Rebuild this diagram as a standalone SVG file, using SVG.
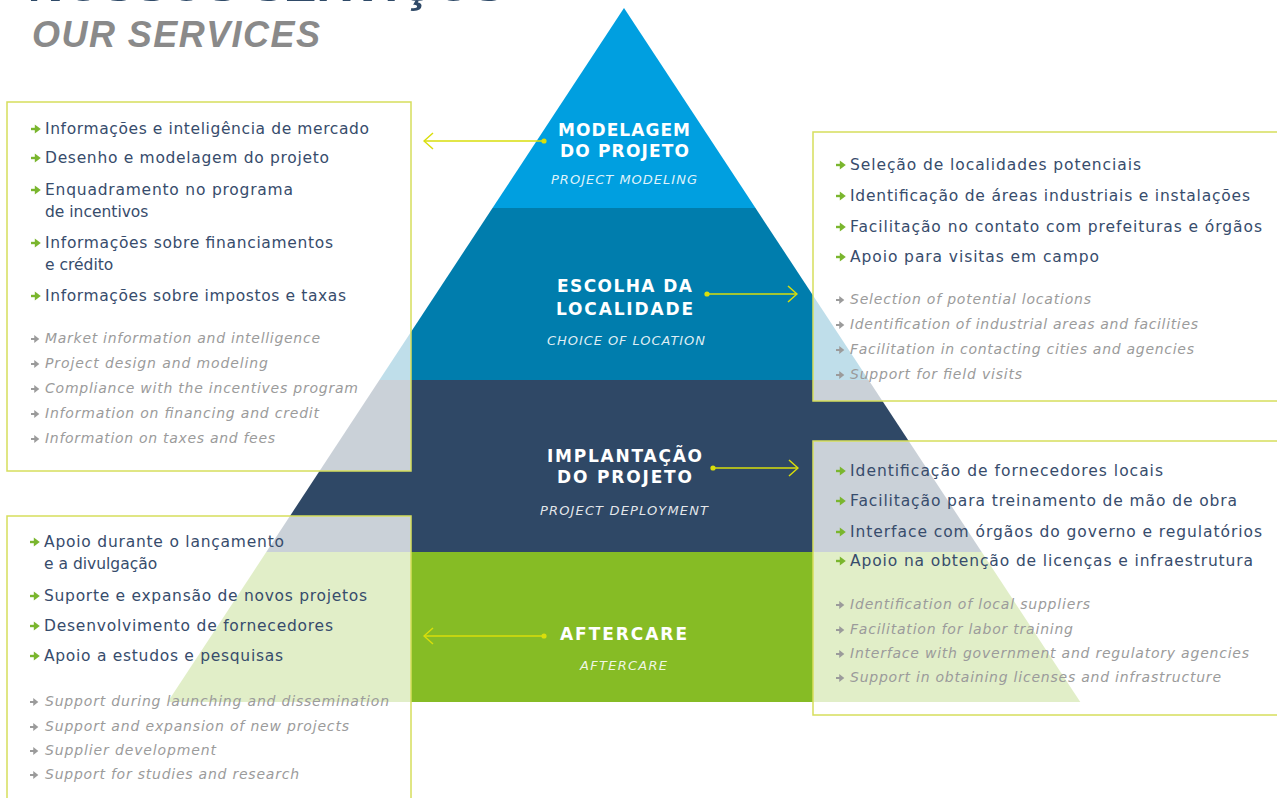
<svg xmlns="http://www.w3.org/2000/svg" xmlns:xlink="http://www.w3.org/1999/xlink" width="1277" height="798" viewBox="0 0 1277 798">
  <style>
    .pt { font-family: "DejaVu Sans", "Liberation Sans", sans-serif; font-size: 15.5px; fill: #374C6C; }
    .en { font-family: "DejaVu Sans", "Liberation Sans", sans-serif; font-size: 14px; font-style: italic; fill: #9B9B9B; }
    .lvl { font-family: "DejaVu Sans", "Liberation Sans", sans-serif; font-size: 17px; font-weight: bold; fill: #FFFFFF; }
    .sub { font-family: "DejaVu Sans", "Liberation Sans", sans-serif; font-size: 13px; font-style: italic; fill: #FFFFFF; fill-opacity: 0.88; }
    .box { fill: #FFFFFF; fill-opacity: 0.75; stroke: #D6DE5C; stroke-width: 1.5; }
    .ag { fill: #7AB62E; stroke: #7AB62E; }
    .ay { fill: #9B9B9B; stroke: #9B9B9B; }
    .link { fill: none; stroke: #D9DE0B; stroke-width: 1.5; marker-start: url(#dot); marker-end: url(#chev); }
  </style>
  <defs>
    <!-- bullet arrow used before every list item -->
    <g id="bullet">
      <path d="M0 0H6.4" stroke-width="2.4" fill="none"/>
      <path d="M3.8 -4.6L9.8 0L3.8 4.6Z" stroke="none"/>
    </g>
    <marker id="dot" markerUnits="userSpaceOnUse" viewBox="0 0 6 6" refX="3" refY="3" markerWidth="6" markerHeight="6">
      <circle cx="3" cy="3" r="2.6" fill="#D9DE0B"/>
    </marker>
    <marker id="chev" markerUnits="userSpaceOnUse" viewBox="0 0 12 18" refX="11" refY="9" markerWidth="12" markerHeight="18" orient="auto">
      <path d="M2 1L11 9L2 17" fill="none" stroke="#D9DE0B" stroke-width="1.5"/>
    </marker>
  </defs>

  <rect width="1277" height="798" fill="#FFFFFF"/>

  <!-- heading -->
  <g id="title">
    <text x="30" y="0.9" font-family="Liberation Sans, sans-serif" font-size="49" font-weight="bold" font-style="italic" fill="#2F4A68">NOSSOS SERVIÇOS</text>
    <text x="32" y="47" font-family="Liberation Sans, sans-serif" font-size="36" font-weight="bold" font-style="italic" fill="#8A8A8A" textLength="288">OUR SERVICES</text>
  </g>

  <!-- pyramid levels -->
  <g id="level-modeling">
    <polygon points="624,8 755.5,208 492.5,208" fill="#009FE0"/>
  </g>
  <g id="level-location">
    <polygon points="492.5,208 755.5,208 868.6,380 379.4,380" fill="#007DAD"/>
  </g>
  <g id="level-deployment">
    <polygon points="379.4,380 868.6,380 981.7,552 266.3,552" fill="#2F4866"/>
  </g>
  <g id="level-aftercare">
    <polygon points="266.3,552 981.7,552 1080.3,702 167.7,702" fill="#86BC25"/>
  </g>

  <!-- service list: project modeling -->
  <g id="box-modeling">
    <rect class="box" x="7" y="102" width="404" height="369"/>
    <use xlink:href="#bullet" class="ag" x="31" y="129"/>
    <text class="pt" x="45" y="134" textLength="324">Informações e inteligência de mercado</text>
    <use xlink:href="#bullet" class="ag" x="31" y="158"/>
    <text class="pt" x="45" y="163" textLength="284">Desenho e modelagem do projeto</text>
    <use xlink:href="#bullet" class="ag" x="31" y="190"/>
    <text class="pt" x="45" y="195" textLength="248">Enquadramento no programa</text>
    <text class="pt" x="45" y="217">de incentivos</text>
    <use xlink:href="#bullet" class="ag" x="31" y="243"/>
    <text class="pt" x="45" y="248" textLength="288">Informações sobre financiamentos</text>
    <text class="pt" x="45" y="270">e crédito</text>
    <use xlink:href="#bullet" class="ag" x="31" y="296"/>
    <text class="pt" x="45" y="301" textLength="301">Informações sobre impostos e taxas</text>

    <use xlink:href="#bullet" class="ay" x="31" y="339" transform="translate(31 339) scale(0.85) translate(-31 -339)"/>
    <text class="en" x="45" y="343" textLength="275">Market information and intelligence</text>
    <use xlink:href="#bullet" class="ay" x="31" y="364" transform="translate(31 364) scale(0.85) translate(-31 -364)"/>
    <text class="en" x="45" y="368" textLength="223">Project design and modeling</text>
    <use xlink:href="#bullet" class="ay" x="31" y="389" transform="translate(31 389) scale(0.85) translate(-31 -389)"/>
    <text class="en" x="45" y="393" textLength="313">Compliance with the incentives program</text>
    <use xlink:href="#bullet" class="ay" x="31" y="414" transform="translate(31 414) scale(0.85) translate(-31 -414)"/>
    <text class="en" x="45" y="418" textLength="274">Information on financing and credit</text>
    <use xlink:href="#bullet" class="ay" x="31" y="439" transform="translate(31 439) scale(0.85) translate(-31 -439)"/>
    <text class="en" x="45" y="443" textLength="230">Information on taxes and fees</text>
  </g>

  <!-- service list: choice of location -->
  <g id="box-location">
    <rect class="box" x="813" y="132" width="480" height="269"/>
    <use xlink:href="#bullet" class="ag" x="836" y="165"/>
    <text class="pt" x="850" y="170" textLength="291">Seleção de localidades potenciais</text>
    <use xlink:href="#bullet" class="ag" x="836" y="196"/>
    <text class="pt" x="850" y="201" textLength="400">Identificação de áreas industriais e instalações</text>
    <use xlink:href="#bullet" class="ag" x="836" y="227"/>
    <text class="pt" x="850" y="232" textLength="412">Facilitação no contato com prefeituras e órgãos</text>
    <use xlink:href="#bullet" class="ag" x="836" y="257"/>
    <text class="pt" x="850" y="262" textLength="249">Apoio para visitas em campo</text>

    <use xlink:href="#bullet" class="ay" x="836" y="300" transform="translate(836 300) scale(0.85) translate(-836 -300)"/>
    <text class="en" x="850" y="304" textLength="241">Selection of potential locations</text>
    <use xlink:href="#bullet" class="ay" x="836" y="325" transform="translate(836 325) scale(0.85) translate(-836 -325)"/>
    <text class="en" x="850" y="329" textLength="348">Identification of industrial areas and facilities</text>
    <use xlink:href="#bullet" class="ay" x="836" y="350" transform="translate(836 350) scale(0.85) translate(-836 -350)"/>
    <text class="en" x="850" y="354" textLength="344">Facilitation in contacting cities and agencies</text>
    <use xlink:href="#bullet" class="ay" x="836" y="375" transform="translate(836 375) scale(0.85) translate(-836 -375)"/>
    <text class="en" x="850" y="379" textLength="172">Support for field visits</text>
  </g>

  <!-- service list: project deployment -->
  <g id="box-deployment">
    <rect class="box" x="813" y="441" width="480" height="274"/>
    <use xlink:href="#bullet" class="ag" x="836" y="471"/>
    <text class="pt" x="850" y="476" textLength="313">Identificação de fornecedores locais</text>
    <use xlink:href="#bullet" class="ag" x="836" y="501"/>
    <text class="pt" x="850" y="506" textLength="387">Facilitação para treinamento de mão de obra</text>
    <use xlink:href="#bullet" class="ag" x="836" y="532"/>
    <text class="pt" x="850" y="537" textLength="412">Interface com órgãos do governo e regulatórios</text>
    <use xlink:href="#bullet" class="ag" x="836" y="561"/>
    <text class="pt" x="850" y="566" textLength="403">Apoio na obtenção de licenças e infraestrutura</text>

    <use xlink:href="#bullet" class="ay" x="836" y="605" transform="translate(836 605) scale(0.85) translate(-836 -605)"/>
    <text class="en" x="850" y="609" textLength="240">Identification of local suppliers</text>
    <use xlink:href="#bullet" class="ay" x="836" y="630" transform="translate(836 630) scale(0.85) translate(-836 -630)"/>
    <text class="en" x="850" y="634" textLength="223">Facilitation for labor training</text>
    <use xlink:href="#bullet" class="ay" x="836" y="654" transform="translate(836 654) scale(0.85) translate(-836 -654)"/>
    <text class="en" x="850" y="658" textLength="399">Interface with government and regulatory agencies</text>
    <use xlink:href="#bullet" class="ay" x="836" y="678" transform="translate(836 678) scale(0.85) translate(-836 -678)"/>
    <text class="en" x="850" y="682" textLength="371">Support in obtaining licenses and infrastructure</text>
  </g>

  <!-- service list: aftercare -->
  <g id="box-aftercare">
    <rect class="box" x="7" y="516" width="404" height="300"/>
    <use xlink:href="#bullet" class="ag" x="30" y="542"/>
    <text class="pt" x="44" y="547" textLength="240">Apoio durante o lançamento</text>
    <text class="pt" x="44" y="569">e a divulgação</text>
    <use xlink:href="#bullet" class="ag" x="30" y="596"/>
    <text class="pt" x="44" y="601" textLength="323">Suporte e expansão de novos projetos</text>
    <use xlink:href="#bullet" class="ag" x="30" y="626"/>
    <text class="pt" x="44" y="631" textLength="289">Desenvolvimento de fornecedores</text>
    <use xlink:href="#bullet" class="ag" x="30" y="656"/>
    <text class="pt" x="44" y="661" textLength="239">Apoio a estudos e pesquisas</text>

    <use xlink:href="#bullet" class="ay" x="30" y="702" transform="translate(30 702) scale(0.85) translate(-30 -702)"/>
    <text class="en" x="45" y="706" textLength="344">Support during launching and dissemination</text>
    <use xlink:href="#bullet" class="ay" x="30" y="727" transform="translate(30 727) scale(0.85) translate(-30 -727)"/>
    <text class="en" x="45" y="731" textLength="304">Support and expansion of new projects</text>
    <use xlink:href="#bullet" class="ay" x="30" y="751" transform="translate(30 751) scale(0.85) translate(-30 -751)"/>
    <text class="en" x="45" y="755" textLength="171">Supplier development</text>
    <use xlink:href="#bullet" class="ay" x="30" y="775" transform="translate(30 775) scale(0.85) translate(-30 -775)"/>
    <text class="en" x="45" y="779" textLength="254">Support for studies and research</text>
  </g>

  <!-- level labels -->
  <g id="label-modeling">
    <text class="lvl" x="558" y="136" textLength="132">MODELAGEM</text>
    <text class="lvl" x="560" y="157" textLength="129">DO PROJETO</text>
    <text class="sub" x="551" y="184" textLength="146">PROJECT MODELING</text>
  </g>
  <g id="label-location">
    <text class="lvl" x="557" y="292" textLength="135">ESCOLHA DA</text>
    <text class="lvl" x="556" y="315" textLength="137">LOCALIDADE</text>
    <text class="sub" x="547" y="345" textLength="158">CHOICE OF LOCATION</text>
  </g>
  <g id="label-deployment">
    <text class="lvl" x="547" y="462" textLength="155">IMPLANTAÇÃO</text>
    <text class="lvl" x="557" y="483" textLength="135">DO PROJETO</text>
    <text class="sub" x="540" y="515" textLength="168">PROJECT DEPLOYMENT</text>
  </g>
  <g id="label-aftercare">
    <text class="lvl" x="560" y="640" textLength="127">AFTERCARE</text>
    <text class="sub" x="580" y="670" textLength="87">AFTERCARE</text>
  </g>

  <!-- connectors from each level to its list -->
  <g id="connectors">
    <path class="link" d="M544 141H424"/>
    <path class="link" d="M707 294H797"/>
    <path class="link" d="M713 468H798"/>
    <path class="link" d="M544 636H424"/>
  </g>
</svg>
